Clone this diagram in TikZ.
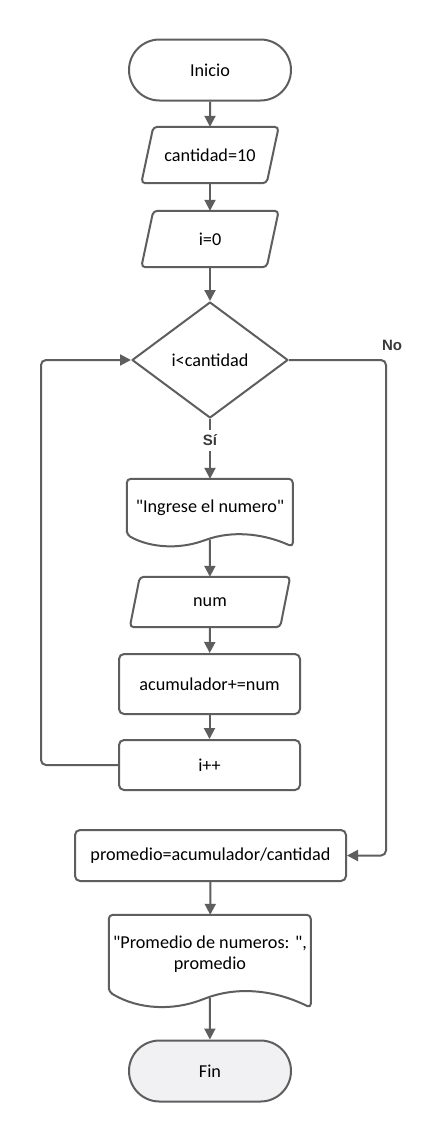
\documentclass[tikz,border=0pt]{standalone}
\usepackage{fontspec}
\setmainfont{Carlito}[Ligatures=TeXOff]
\newfontfamily\lblfont{Liberation Sans}
\usetikzlibrary{shapes.geometric,shapes.misc,arrows.meta,calc}
\definecolor{ln}{HTML}{5E5E5E}
\definecolor{lbltxt}{HTML}{3A3A3A}
\definecolor{finfill}{HTML}{F1F1F4}
% parallelogram outline around a node: name, skew
\newcommand\myio[2]{%
  \draw[shp, rounded corners=4pt] ([xshift=#2pt]#1.north west) -- ([xshift=#2pt]#1.north east)
    -- ([xshift=-#2pt]#1.south east) -- ([xshift=-#2pt]#1.south west) -- cycle;}
% document outline: name, width, left bottom y, right bottom y (local, from north west)
\newcommand\mydoc[4]{%
  \begin{scope}[shift={(#1.north west)}]
  \draw[shp, rounded corners=4pt] (0,#3) -- (0,0) -- (#2,0) -- (#2,#4)
    .. controls ({0.8*#2},{#4-1.25*(#4-#3)}) and ({0.62*#2},{#4-1.25*(#4-#3)}) .. ({0.47*#2},{#4-0.55*(#4-#3)})
    .. controls ({0.32*#2},{#4+0.15*(#4-#3)}) and ({0.15*#2},{#4+0.15*(#4-#3)}) .. (0,#3) -- cycle;
  \coordinate (#1-b) at ({#2/2},{#4-0.6*(#4-#3)});
  \end{scope}}
\newcommand\qq{\symbol{34}}
\begin{document}
\begin{tikzpicture}[x=1pt,y=-1pt,
  shp/.style={draw=ln, line width=2pt, line join=round},
  txt/.style={font=\fontsize{18.2}{21}\selectfont, text=black, align=center},
  term/.style={shp, txt, rounded rectangle, minimum width=162pt, minimum height=61pt, inner sep=0pt},
  iobox/.style={txt, inner sep=0pt, rectangle},
  proc/.style={shp, txt, rectangle, rounded corners=5pt, inner sep=0pt},
  arr/.style={draw=ln, line width=2pt, -{Triangle[length=11pt,width=11pt]}},
  lbl/.style={font=\lblfont\bfseries\fontsize{15}{18}\selectfont, text=lbltxt}
]
\useasboundingbox (0,0) rectangle (444,1141);
\fill[white] (0,0) rectangle (444,1141);

\node[term] (ini) at (210,70) {Inicio};
\node[iobox, minimum width=125pt, minimum height=56pt] (cant) at (210,155) {cantidad=10};
\myio{cant}{6}
\node[iobox, minimum width=125pt, minimum height=56pt] (izero) at (210,239) {i=0};
\myio{izero}{6}
\node[shp, txt, diamond, minimum width=156pt, minimum height=116pt, inner sep=0pt] (dec) at (210,360) {i<cantidad};
\node[iobox, minimum width=166pt, minimum height=58pt] (ing) at (210,508) {\qq Ingrese el numero\qq};
\mydoc{ing}{166}{56}{68}
\node[iobox, minimum width=150pt, minimum height=50pt] (num) at (210,602) {num};
\myio{num}{5}
\node[proc, minimum width=181pt, minimum height=60pt] (acu) at (209.5,684) {acumulador+=num};
\node[proc, minimum width=181pt, minimum height=50pt] (inc) at (209.5,765) {i++};
\node[proc, minimum width=271pt, minimum height=51pt] (prom) at (210.5,855.5) {promedio=acumulador/cantidad};
\node[iobox, minimum width=202pt, minimum height=78pt] (out) at (210,954) {\qq Promedio de numeros: \qq,\\promedio};
\mydoc{out}{202}{77}{93}
\node[term, fill=finfill] (fin) at (210,1071) {Fin};

\coordinate (nr) at (386,0);
\coordinate (lx) at (41,0);
\node[lbl] (no) at (392,345) {No};

\draw[arr] (ini) -- (cant);
\draw[arr] (cant) -- (izero);
\draw[arr] (izero) -- (dec);
\draw[arr] (dec) -- node[lbl, fill=white, inner sep=5pt, pos=0.36] (si) {Sí} (ing);
\draw[arr, rounded corners=5pt] (dec.east) -- (dec.east -| nr) -- (prom.east -| nr) -- (prom.east);
\draw[arr, rounded corners=5pt] (inc.west) -- (inc.west -| lx) -- (dec.west -| lx) -- (dec.west);
\draw[arr] (ing-b) -- (num);
\draw[arr] (num) -- (acu);
\draw[arr] (acu) -- (inc);
\draw[arr] (prom) -- (out);
\draw[arr] (out-b) -- (fin);
\end{tikzpicture}
\end{document}
